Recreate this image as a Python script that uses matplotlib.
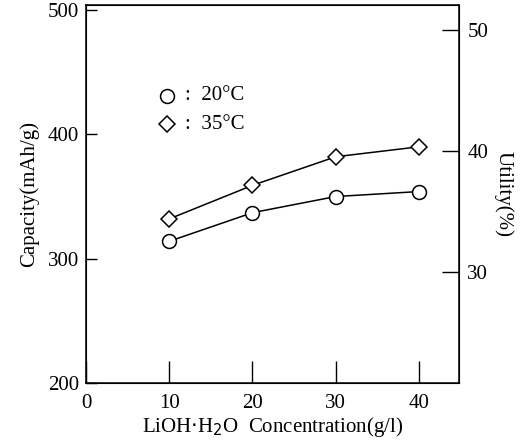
import matplotlib
matplotlib.use('Agg')
import matplotlib.pyplot as plt

matplotlib.rcParams['font.family'] = ['Liberation Serif', 'DejaVu Serif']

conc = [10, 20, 30, 40]
cap_20 = [314, 337, 350, 354]
cap_35 = [332, 359, 382, 390]

fig = plt.figure(figsize=(5.26, 4.40), dpi=100)
ax = fig.add_axes([0.1635, 0.1295, 0.709, 0.859])

ax.plot(conc, cap_20, '-', color='black', lw=1.1, marker='o', ms=10,
        mfc='white', mec='black', mew=1.1)
ax.plot(conc, cap_35, '-', color='black', lw=1.1, marker='D', ms=8,
        mfc='white', mec='black', mew=1.1)

ax.set_xlim(0, 44.8)
ax.set_ylim(201, 504)
ax.set_xticks([0, 10, 20, 30, 40])
ax.set_yticks([200, 300, 400, 500])
ax.tick_params(axis='x', direction='in', length=16, width=1.0, labelsize=15, pad=8)
ax.tick_params(axis='y', direction='in', length=8, width=1.0, labelsize=15, pad=5)
for s in ax.spines.values():
    s.set_linewidth(1.1)

ax.set_xlabel('LiOH$\\cdot$H$_2$O  Concentration(g/l)', fontsize=15, labelpad=1)
ax.set_ylabel('Capacity(mAh/g)', fontsize=15, labelpad=6)

ax2 = ax.twinx()
ax2.set_ylim(20.8, 52.1)
ax2.set_yticks([30, 40, 50])
ax2.tick_params(axis='y', direction='in', length=12, width=1.0, labelsize=15, pad=6)
ax2.set_ylabel('Utility(%)', fontsize=15, rotation=270, labelpad=18)

# legend drawn as markers + text in the upper left
ax.plot([9.7], [431], marker='o', ms=10, mfc='white', mec='black', mew=1.1, ls='none')
ax.plot([9.7], [408], marker='D', ms=8, mfc='white', mec='black', mew=1.1, ls='none')
ax.text(11.9, 431, ':  20°C', fontsize=15, va='center')
ax.text(11.9, 408, ':  35°C', fontsize=15, va='center')

plt.savefig('out.png', dpi=100, facecolor='white')
